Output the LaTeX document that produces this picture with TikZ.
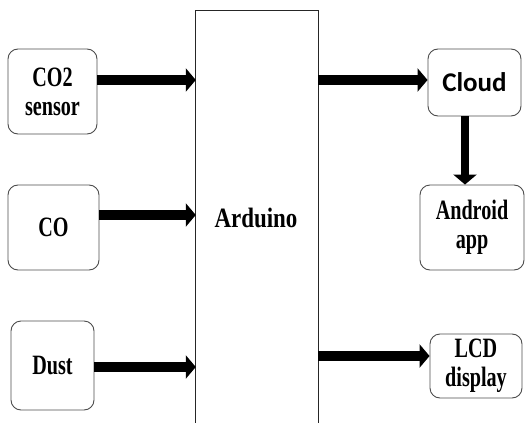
\documentclass[tikz,border=0pt]{standalone}
\usepackage{fontspec}
\setmainfont{Liberation Serif}[FakeStretch=0.72]
\newfontfamily\widefont{Liberation Serif}[FakeStretch=0.82]
\newfontfamily\cloudfont{Carlito}
\usetikzlibrary{arrows.meta}
\tikzset{
  blk/.style={draw=black!70, line width=0.9pt, rounded corners=10pt, inner sep=0pt, font=\bfseries\fontsize{28}{28}\selectfont, align=center},
  fat/.style={line width=10pt, -{Triangle[length=10pt,width=23pt]}, shorten >=0pt},
}
\begin{document}
\begin{tikzpicture}[x=1pt,y=-1pt]
\useasboundingbox (0,0) rectangle (525,423);
% Arduino (open at the bottom)
\node[minimum width=122pt, minimum height=412pt, inner sep=0pt] (ard) at (257,217) {};
\node[font=\widefont\bfseries\fontsize{28}{28}\selectfont] (ardt) at (256,218) {Arduino};
\draw[line width=0.9pt, black!85] (ard.south west) -- (ard.north west) -- (ard.north east) -- (ard.south east);
% left boxes
\node[blk, minimum width=89pt, minimum height=85pt] (co2) at (52.5,91.5) {CO2\\[1pt]sensor};
\node[blk, minimum width=91pt, minimum height=85pt] (co) at (53.5,227.5) {CO};
\node[blk, minimum width=83pt, minimum height=89pt] (dust) at (52.5,365.5) {Dust};
% right boxes
\node[blk, minimum width=93pt, minimum height=67pt, font=\cloudfont\bfseries\fontsize{27}{28}\selectfont] (cloud) at (474.5,82.5) {Cloud};
\node[blk, minimum width=104pt, minimum height=85pt] (android) at (472,227.5) {Android\\[1pt]app};
\node[blk, minimum width=92pt, minimum height=64pt] (lcd) at (476,366) {LCD\\[1pt]display};
% connectors
\coordinate (a1) at (co2.east |- 0,80);
\coordinate (a2) at (co.east |- 0,215);
\coordinate (a3) at (dust.east |- 0,367);
\draw[fat] (a1) -- (a1 -| ard.west);
\draw[fat] (a2) -- (a2 -| ard.west);
\draw[fat] (a3) -- (a3 -| ard.west);
\coordinate (b1) at (ard.east |- 0,80);
\coordinate (b2) at (ard.east |- 0,356);
\draw[fat] (b1) -- (b1 -| cloud.west);
\draw[fat] (b2) -- (b2 -| lcd.west);
\coordinate (c1) at (465,0);
\draw[fat, line width=8pt] (c1 |- cloud.south) -- (c1 |- android.north);
\end{tikzpicture}
\end{document}
